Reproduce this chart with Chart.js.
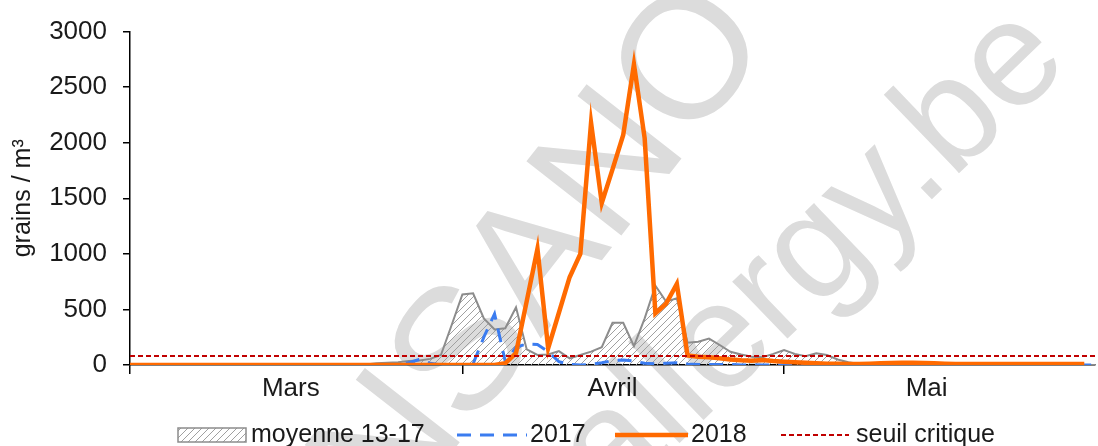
<!DOCTYPE html>
<html>
<head>
<meta charset="utf-8">
<script src="https://cdn.jsdelivr.net/npm/chart.js@4/dist/chart.umd.min.js"></script>
<style>
  html, body { margin: 0; padding: 0; background: #fff; }
  #wrap { width: 1098px; height: 446px; }
</style>
</head>
<body>
<div id="wrap"><canvas id="pollen" width="1098" height="446"></canvas></div>
<script>
// un point par jour, jour 0 = 1er mars
let moyenne1317 = [
  0, 0, 0, 0, 0, 0, 0, 0, 0, 0,
  0, 0, 0, 0, 0, 0, 0, 0, 0, 0,
  0, 0, 5, 15, 20, 25, 35, 40, 55, 90,
  360, 634, 645, 420, 320, 330, 520, 140, 90, 95,
  125, 60, 90, 120, 160, 380, 380, 170, 420, 714,
  570, 600, 200, 210, 238, 180, 119, 95, 74, 70,
  100, 135, 100, 80, 105, 90, 50, 25, 10, 5,
  0, 0, 0, 0, 0, 0, 0, 0, 0, 0,
  0, 0, 0, 0, 0, 0, 0, 0, 0, 0,
  0,
];

let annee2017 = [
  0, 0, 0, 0, 0, 0, 0, 0, 0, 0,
  0, 0, 0, 0, 0, 0, 0, 0, 0, 0,
  0, 0, 0, 0, 0, 5, 20, 50, 15, 0,
  0, 0, 10, 250, 460, 30, 160, 190, 185, 120,
  30, 5, 0, 5, 20, 40, 45, 35, 15, 10,
  15, 20, 10, 5, 5, 5, 5, 0, 0, 0,
  0, 0, 0, 0, 0, 0, 0, 0, 0, 0,
  0, 0, 0, 0, 0, 0, 0, 0, 0, 0,
  0, 0, 0, 0, 0, 0, 0, 0, 0, 0,
  0,
];

let annee2018 = [
  0, 0, 0, 0, 0, 0, 0, 0, 0, 0,
  0, 0, 0, 0, 0, 0, 0, 0, 0, 0,
  0, 0, 0, 0, 0, 0, 0, 0, 0, 0,
  0, 0, 0, 0, 0, 15, 107, 575, 1045, 150,
  470, 790, 1000, 2180, 1458, 1760, 2070, 2705, 2040, 464,
  553, 730, 85, 75, 70, 60, 50, 42, 38, 45,
  35, 30, 25, 20, 15, 12, 12, 10, 10, 12,
  15, 18, 20, 20, 18, 15, 12, 10, 10, 10,
  8, 8, 8, 8, 8, 8, 8, 8, 8, 8,
];

let seuilCritique = [80, 80];
let seuilJours = [0, 90];

let debutMois = [0, 31, 61];
let milieuMois = [15, 45, 74.3];
let nomsMois = ["Mars", "Avril", "Mai"];

let police = "Arial, 'Liberation Sans', sans-serif";

let toPoints = function (values) {
  return values.map(function (v, i) {
    return { x: i, y: v };
  });
};

let makeHatch = function () {
  let tile = document.createElement("canvas");
  tile.width = 7;
  tile.height = 7;
  let t = tile.getContext("2d");
  t.strokeStyle = "#a0a0a0";
  t.lineWidth = 1;
  t.beginPath();
  t.moveTo(-1, 8);
  t.lineTo(8, -1);
  t.moveTo(-1, 1);
  t.lineTo(1, -1);
  t.moveTo(6, 8);
  t.lineTo(8, 6);
  t.stroke();
  return document.getElementById("pollen").getContext("2d").createPattern(tile, "repeat");
};

let hatch = makeHatch();

// filigrane en fond
let watermark = {
  id: "watermark",
  beforeDraw: function (chart) {
    let ctx = chart.ctx;
    ctx.save();
    ctx.fillStyle = "#dcdcdc";
    ctx.textAlign = "right";
    ctx.textBaseline = "alphabetic";

    ctx.save();
    ctx.translate(774, 40);
    ctx.rotate((-52 * Math.PI) / 180);
    ctx.font = "175px " + police;
    ctx.fillText("SCIENSANO", 0, 0);
    ctx.restore();

    ctx.save();
    ctx.translate(1072, 64);
    ctx.rotate((-44 * Math.PI) / 180);
    ctx.font = "150px " + police;
    ctx.fillText("airallergy.be", 0, 0);
    ctx.restore();

    ctx.restore();
  },
};

// légende du bas, échantillons de longueurs différentes
let bottomLegend = {
  id: "bottomLegend",
  afterDraw: function (chart) {
    let ctx = chart.ctx;
    let y = 435;
    ctx.save();
    ctx.font = "25px " + police;
    ctx.textBaseline = "middle";
    ctx.textAlign = "left";

    ctx.fillStyle = hatch;
    ctx.fillRect(178, 428, 68, 14);
    ctx.strokeStyle = "#8c8c8c";
    ctx.lineWidth = 1.5;
    ctx.strokeRect(178, 428, 68, 14);
    ctx.fillStyle = "#1a1a1a";
    ctx.fillText("moyenne 13-17", 251, y);

    ctx.beginPath();
    ctx.setLineDash([14, 9]);
    ctx.strokeStyle = "#3b7cf0";
    ctx.lineWidth = 3;
    ctx.moveTo(457, y);
    ctx.lineTo(527, y);
    ctx.stroke();
    ctx.fillText("2017", 530, y);

    ctx.beginPath();
    ctx.setLineDash([]);
    ctx.strokeStyle = "#ff6a00";
    ctx.lineWidth = 4.5;
    ctx.moveTo(615, y);
    ctx.lineTo(688, y);
    ctx.stroke();
    ctx.fillText("2018", 691, y);

    ctx.beginPath();
    ctx.setLineDash([5, 3]);
    ctx.strokeStyle = "#c00000";
    ctx.lineWidth = 2;
    ctx.moveTo(781, y);
    ctx.lineTo(849, y);
    ctx.stroke();
    ctx.fillText("seuil critique", 856, y);

    ctx.restore();
  },
};

let chartDraw = function () {
  let ctx = document.getElementById("pollen").getContext("2d");

  new Chart(ctx, {
    type: "line",
    data: {
      datasets: [
        {
          label: "moyenne 13-17",
          data: toPoints(moyenne1317),
          borderColor: "#8c8c8c",
          borderWidth: 2,
          backgroundColor: hatch,
          fill: "origin",
          pointRadius: 0,
          tension: 0,
          order: 4,
        },
        {
          label: "2017",
          data: toPoints(annee2017),
          borderColor: "#3b7cf0",
          borderWidth: 3,
          borderDash: [14, 9],
          fill: false,
          pointRadius: 0,
          tension: 0,
          order: 3,
        },
        {
          label: "2018",
          data: toPoints(annee2018),
          borderColor: "#ff6a00",
          borderWidth: 4.5,
          fill: false,
          pointRadius: 0,
          tension: 0,
          order: 2,
        },
        {
          label: "seuil critique",
          data: seuilJours.map(function (d, i) {
            return { x: d, y: seuilCritique[i] };
          }),
          borderColor: "#c00000",
          borderWidth: 2,
          borderDash: [5, 3],
          fill: false,
          pointRadius: 0,
          order: 1,
        },
      ],
    },
    options: {
      responsive: false,
      animation: false,
      layout: { padding: { top: 29, right: 3, left: 0, bottom: 0 } },
      plugins: {
        legend: { display: false },
        tooltip: { enabled: false },
      },
      scales: {
        y: {
          min: 0,
          max: 3000,
          afterFit: function (s) {
            s.width = 130;
          },
          ticks: {
            stepSize: 500,
            padding: 16,
            color: "#1a1a1a",
            font: { family: police, size: 26 },
            callback: function (v) {
              return String(v);
            },
          },
          grid: {
            drawOnChartArea: false,
            tickLength: 7,
            color: "#000",
            lineWidth: 1.5,
          },
          border: { color: "#000", width: 1.5 },
          title: {
            display: true,
            text: "grains / m³",
            color: "#1a1a1a",
            font: { family: police, size: 25 },
            padding: { top: 8, bottom: 0 },
          },
        },
        x: {
          type: "linear",
          position: "bottom",
          min: 0,
          max: 90,
          afterBuildTicks: function (s) {
            s.ticks = debutMois.map(function (v) {
              return { value: v };
            });
          },
          afterFit: function (s) {
            s.height = 10;
          },
          ticks: { display: false },
          grid: {
            drawOnChartArea: false,
            tickLength: 9,
            color: "#000",
            lineWidth: 1.5,
          },
          border: { color: "#000", width: 1.5 },
        },
        mois: {
          type: "linear",
          position: "bottom",
          min: 0,
          max: 90,
          afterBuildTicks: function (s) {
            s.ticks = milieuMois.map(function (v) {
              return { value: v };
            });
          },
          afterFit: function (s) {
            s.height = 71;
          },
          ticks: {
            autoSkip: false,
            maxRotation: 0,
            padding: -2,
            color: "#1a1a1a",
            font: { family: police, size: 26 },
            callback: function (v, i) {
              return nomsMois[i];
            },
          },
          grid: { display: false, drawTicks: false },
          border: { display: false },
        },
      },
    },
    plugins: [watermark, bottomLegend],
  });
};

window.onload = function () {
  chartDraw();
};
</script>
</body>
</html>
